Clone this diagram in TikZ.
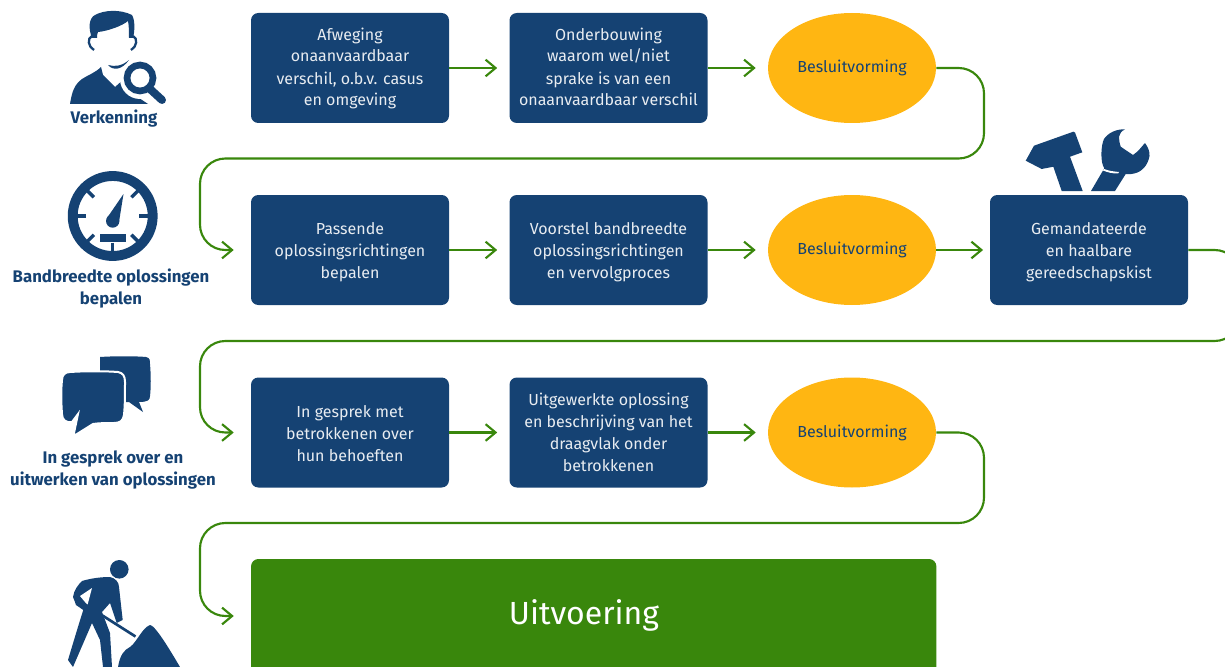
\documentclass[tikz,border=0pt]{standalone}
\usepackage{fontspec}
\setmainfont{Fira Sans}
\usetikzlibrary{arrows.meta, positioning, calc, shapes.geometric}
\definecolor{rijkblue}{HTML}{154273}
\definecolor{rijkgreen}{HTML}{39870C}
\definecolor{rijkyellow}{HTML}{FFB612}
\tikzset{
 stepbox/.style={draw=none, fill=rijkblue, rounded corners=5.5pt, minimum width=148.5pt, minimum height=82.5pt, inner sep=0pt,
  text=white!90!rijkblue, align=center, font=\fontsize{12}{16.5}\selectfont},
 decision/.style={ellipse, fill=rijkyellow, minimum width=126pt, minimum height=82.5pt, inner sep=0pt,
  text=rijkblue, align=center, font=\fontsize{12}{16.5}\selectfont},
 sidelabel/.style={text=rijkblue, align=center, inner sep=0pt, font=\fontsize{12.6}{16.5}\selectfont\bfseries},
 flow/.style={draw=rijkgreen, line width=1.6pt, rounded corners=19pt, -{Straight Barb[length=7.5pt,width=12.5pt]}, shorten >=9pt},
 icon/.style={fill=rijkblue, draw=none},
 block/.style={text height=#1, text depth=0pt},
}
\begin{document}
\begin{tikzpicture}[x=0.75pt, y=-0.75pt]
 \clip (0,0) rectangle (1225,667);
 \useasboundingbox (0,0) rectangle (1225,667);

 % first row
 \node[stepbox, block=57pt] (afweging) at (350,68) {Afweging\\onaanvaardbaar\\verschil, o.b.v. casus\\en omgeving};
 \node[stepbox, block=57pt] (onderbouwing) at (608.5,68) {Onderbouwing\\waarom wel/niet\\sprake is van een\\onaanvaardbaar verschil};
 \node[decision] (besluit1) at (852,68) {Besluitvorming};

 % second row
 \node[stepbox, block=43pt] (passend) at (350,250) {Passende\\oplossingsrichtingen\\bepalen};
 \node[stepbox, block=43pt] (voorstel) at (608.5,250) {Voorstel bandbreedte\\oplossingsrichtingen\\en vervolgproces};
 \node[decision] (besluit2) at (852,250) {Besluitvorming};
 \node[stepbox, block=43pt] (kist) at (1089,250) {Gemandateerde\\en haalbare\\gereedschapskist};

 % third row
 \node[stepbox, block=44pt] (gesprek) at (350,432.5) {In gesprek met\\betrokkenen over\\hun behoeften};
 \node[stepbox, block=58pt] (uitgewerkt) at (608.5,432.5) {Uitgewerkte oplossing\\en beschrijving van het\\draagvlak onder\\betrokkenen};
 \node[decision] (besluit3) at (852,432.5) {Besluitvorming};

 % last row, runs off the page
 \node[stepbox, fill=rijkgreen, minimum width=514pt, minimum height=90pt] (uitvoering) at (593.7,619) {};
 \node[text=white, inner sep=0pt, font=\fontsize{24}{28}\selectfont] (uitvoeringtekst) at (584,615) {Uitvoering};

 % labels on the left
 \node[sidelabel] (verkenning) at (114,119) {Verkenning};
 \node[sidelabel] (bandbreedte) at (111,289) {Bandbreedte oplossingen\\bepalen};
 \node[sidelabel] (overleg) at (113,470) {In gesprek over en\\uitwerken van oplossingen};

 % straight arrows
 \draw[flow] (afweging.east) -- (onderbouwing.west);
 \draw[flow] (onderbouwing.east) -- (besluit1.west);
 \draw[flow] (passend.east) -- (voorstel.west);
 \draw[flow] (voorstel.east) -- (besluit2.west);
 \draw[flow, shorten >=5pt] (besluit2.east) -- (kist.west);
 \draw[flow] (gesprek.east) -- (uitgewerkt.west);
 \draw[flow] (uitgewerkt.east) -- (besluit3.west);

 % arrows back to the next row
 \coordinate (turn1) at (984,158.5);
 \coordinate (turn2) at (1240,341);
 \coordinate (turn3) at (984,523);
 \coordinate (left1) at (200,158.5);
 \coordinate (left2) at (200,341);
 \coordinate (left3) at (200,523);

 \draw[flow, shorten >=12.75pt] (besluit1.east) -| (turn1) -- (left1) |- (passend.west);
 \draw[flow, shorten >=12.75pt] (kist.east) -| (turn2) -- (left2) |- (gesprek.west);
 \draw[flow, shorten >=12.75pt] (besluit3.east) -| (turn3) -- (left3) |- ($(uitvoering.west)+(0,-3)$);

 % magnifier man
 \fill[icon] (70,104) .. controls (72,92) and (74,85) .. (82,79) .. controls (88,75) and (95,73) .. (101,67)
  -- (103,75) -- (115,87) -- (124,79) -- (130,92) -- (148,104) -- cycle;
 \fill[icon] (92,38) .. controls (88,28) and (89,18) .. (95,15) .. controls (104,10) and (120,9) .. (132,15)
  .. controls (135,20) and (135,30) .. (133,38) -- (129,38) .. controls (129,32) and (129,26) .. (128,21)
  .. controls (122,26) and (108,31) .. (98,32) .. controls (97,34) and (97,36) .. (97,38) -- cycle;
 \draw[rijkblue, line width=1.7pt] (92,36) .. controls (87,38) and (88,47) .. (94,50);
 \draw[rijkblue, line width=1.7pt] (133,36) .. controls (138,38) and (137,47) .. (131,50);
 \fill[icon] (108,65) .. controls (113,71) and (122,70) .. (129,60) .. controls (122,66) and (115,67) .. (108,65) -- cycle;
 \fill[white] (140,79) circle (20);
 \draw[rijkblue, line width=5pt] (140,78) circle (13);
 \draw[rijkblue, line width=6pt, line cap=round] (150,89) -- (162,100);

 % gauge
 \draw[rijkblue, line width=7.4pt] (112.7,216) circle (40);
 \foreach \angle in {0,45,90,135,180,225,315}
  \draw[rijkblue, line width=2.6pt] ($(112.7,216)+(\angle:26.5)$) -- ($(112.7,216)+(\angle:36)$);
 \fill[icon] (112.7,221) circle (6.7);
 \fill[icon] (107,218) -- (123.5,194) -- (119,222) -- cycle;
 \fill[icon] (100,234) rectangle (126,242);

 % speech bubbles
 \fill[icon] (100,357) .. controls (115,356) and (135,356) .. (146,357) .. controls (150,358) and (150,360) .. (150,364)
  .. controls (151,375) and (151,388) .. (150,396) .. controls (150,400) and (148,402) .. (139,402) -- (143,412) -- (129,402)
  -- (100,402) -- cycle;
 \fill[icon, draw=white, line width=1.5pt] (70,372) .. controls (85,371) and (105,371) .. (118,372) .. controls (123,373) and (125,376) .. (125,382)
  .. controls (125,395) and (125,405) .. (124,415) .. controls (123,421) and (120,423) .. (114,423) .. controls (106,423) and (100,423) .. (93,424)
  -- (77,434) .. controls (75,436) and (73,435) .. (74,433) -- (78,414)
  -- (72,422) .. controls (66,423) and (62,420) .. (62,414) .. controls (61,400) and (61,390) .. (62,380) .. controls (62,375) and (65,372) .. (70,372) -- cycle;

 % wrench and hammer
 \fill[icon] (1025.7,160.7) -- (1034,145.7) -- (1073.3,131.7) .. controls (1074,131.5) and (1074.5,131.7) .. (1075,132.5) -- (1082.3,152.3)
  -- (1070,156.7) -- (1082.7,191) -- (1061.7,191) -- (1053.3,166.7) -- (1041.7,169) -- cycle;
 \fill[icon] (1091,191) -- (1104.3,168.3) .. controls (1100,162) and (1101,145) .. (1104,139) .. controls (1108,133) and (1116,129) .. (1125,129.3)
  .. controls (1118,133) and (1118,138) .. (1120.7,146.7) -- (1133,155) .. controls (1139,151) and (1142,146) .. (1145,143)
  .. controls (1148,147) and (1150,152) .. (1149.5,156) .. controls (1148,165) and (1142,172) .. (1134,173.5) .. controls (1130,174.5) and (1128,174) .. (1125.7,174)
  -- (1115,191) -- cycle;
 \fill[white] (1104,169) .. controls (1109,171) and (1114,171.5) .. (1119,172) -- (1118,173.5) .. controls (1112,173.5) and (1108,172.5) .. (1103,170.5) -- cycle;

 % worker
 \fill[icon] (119.3,569.3) circle (9.3);
 \fill[icon] (73,597) .. controls (74,590) and (78,585) .. (82,581) .. controls (92,578) and (102,577) .. (110,577)
  .. controls (115,578) and (119,582) .. (119,587) -- (122.7,620) -- (116.7,623) -- (110,603) -- (102,612)
  -- (110,633) -- (112,667) -- (103,667) -- (100,640) -- (92,623) -- (73,667) -- (68,660) .. controls (71,650) and (80,620) .. (83.3,610)
  -- (76,605) -- (75,602) -- cycle;
 \fill[white] (80,596) -- (92,588) -- (87.5,605) -- cycle;
 \draw[rijkblue, line width=2pt] (78,600) -- (135.5,636.5);
 \fill[icon] (118,667) .. controls (120,655) and (124,650) .. (130,647) .. controls (137,642) and (142,628) .. (150,625)
  .. controls (155,625) and (170,650) .. (180,667) -- cycle;
\end{tikzpicture}
\end{document}
